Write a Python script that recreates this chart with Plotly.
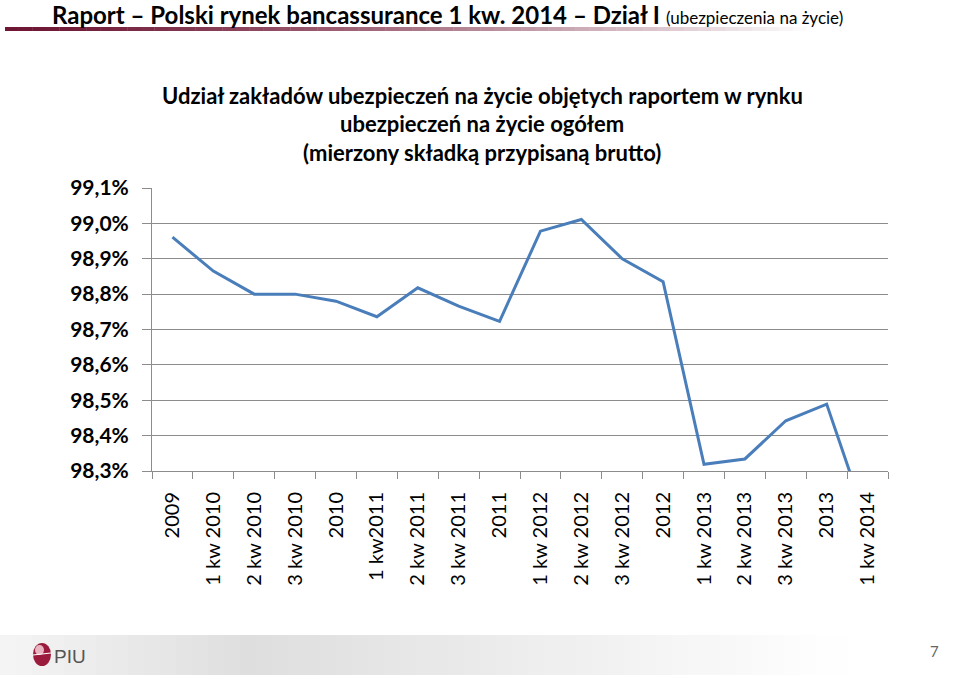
import plotly.graph_objects as go

categories = ["2009", "1 kw 2010", "2 kw 2010", "3 kw 2010", "2010",
              "1 kw2011", "2 kw 2011", "3 kw 2011", "2011",
              "1 kw 2012", "2 kw 2012", "3 kw 2012", "2012",
              "1 kw 2013", "2 kw 2013", "3 kw 2013", "2013", "1 kw 2014"]
share = [98.961, 98.865, 98.800, 98.800, 98.780,
         98.736, 98.818, 98.766, 98.723,
         98.978, 99.011, 98.900, 98.835,
         98.319, 98.334, 98.442, 98.489, 98.15]
y_ticks = [98.3, 98.4, 98.5, 98.6, 98.7, 98.8, 98.9, 99.0, 99.1]
y_labels = ["<b>" + f"{v:.1f}%".replace(".", ",") + "</b>" for v in y_ticks]

title_lines = ["Udział zakładów ubezpieczeń na życie objętych raportem w rynku",
               "ubezpieczeń na życie ogółem",
               "(mierzony składką przypisaną brutto)"]
header_main = "Raport – Polski rynek bancassurance 1 kw. 2014 – Dział I"
header_sub = "(ubezpieczenia na życie)"

W, H = 960, 675
L, R, T, B = 152, 72, 188, 204
pw = W - L - R
ph = H - T - B


def fx(px):
    return (px - L) / pw


def fy(py):
    return (H - B - py) / ph


def mix(c1, c2, t):
    return "rgb(%d,%d,%d)" % tuple(round(a + (b - a) * t) for a, b in zip(c1, c2))


fig = go.Figure()
fig.add_trace(go.Scatter(
    x=categories, y=share, mode="lines",
    line=dict(color="#4A7EBB", width=3),
    hoverinfo="x+y", showlegend=False,
))

shapes = []
# header gradient bar
n = 60
x0, x1 = 5, 820
dark = (110, 22, 52)
white = (255, 255, 255)
for i in range(n):
    a = x0 + (x1 - x0) * i / n
    b = x0 + (x1 - x0) * (i + 1) / n
    t = (i / (n - 1)) ** 1.3
    shapes.append(dict(type="rect", xref="paper", yref="paper",
                       x0=fx(a), x1=fx(b) + 0.0005, y0=fy(31), y1=fy(27),
                       fillcolor=mix(dark, white, t), line=dict(width=0), layer="above"))
# footer gradient band
n2 = 60
gray = (222, 222, 222)
light = (245, 245, 245)
for i in range(n2):
    a = W * i / n2
    b = W * (i + 1) / n2
    c = (a + b) / 2
    if c < 250:
        col = mix(light, gray, c / 250)
    else:
        col = mix(gray, white, min(1, (c - 250) / 600))
    shapes.append(dict(type="rect", xref="paper", yref="paper",
                       x0=fx(a), x1=fx(b) + 0.0005, y0=fy(H), y1=fy(635),
                       fillcolor=col, line=dict(width=0), layer="below"))
# logo egg
shapes.append(dict(type="circle", xref="paper", yref="paper",
                   x0=fx(33), x1=fx(51), y0=fy(666), y1=fy(643),
                   fillcolor="#9B1B3C", line=dict(width=0), layer="above"))
shapes.append(dict(type="circle", xref="paper", yref="paper",
                   x0=fx(35), x1=fx(44), y0=fy(655), y1=fy(645),
                   fillcolor="#E7B4C0", line=dict(width=0), layer="above"))
shapes.append(dict(type="line", xref="paper", yref="paper",
                   x0=fx(33), x1=fx(51), y0=fy(655), y1=fy(653),
                   line=dict(color="white", width=1.2), layer="above"))

annotations = []
annotations.append(dict(
    x=fx(50), y=fy(14), xref="paper", yref="paper", xanchor="left", yanchor="middle",
    text=f"<b>{header_main}</b> <span style='font-size:17px'>{header_sub}</span>",
    showarrow=False, font=dict(family="Lato", size=24, color="black")))
for i, line in enumerate(title_lines):
    annotations.append(dict(
        x=fx(482), y=fy(95 + i * 28.5), xref="paper", yref="paper",
        xanchor="center", yanchor="middle", text=f"<b>{line}</b>",
        showarrow=False, font=dict(family="Lato", size=22, color="black")))
annotations.append(dict(
    x=fx(52), y=fy(656), xref="paper", yref="paper", xanchor="left", yanchor="middle",
    text="PIU", showarrow=False,
    font=dict(family="Liberation Sans Narrow, Liberation Sans", size=19, color="#555555")))
annotations.append(dict(
    x=fx(934), y=fy(651), xref="paper", yref="paper", xanchor="center", yanchor="middle",
    text="7", showarrow=False, font=dict(family="Lato", size=15, color="#666666")))

fig.update_layout(
    width=W, height=H,
    margin=dict(l=L, r=R, t=T, b=B, autoexpand=False),
    paper_bgcolor="white", plot_bgcolor="white",
    shapes=shapes, annotations=annotations,
    xaxis=dict(type="category", tickson="boundaries", ticks="outside", ticklen=7,
               tickcolor="#8C8C8C", showline=True, linecolor="#8C8C8C", linewidth=1,
               showgrid=False, tickangle=-90, ticklabelstandoff=12,
               tickfont=dict(family="Lato", size=20, color="black"),
               range=[-0.5, len(categories) - 0.5]),
    yaxis=dict(range=[98.3, 99.1], tickvals=y_ticks, ticktext=y_labels,
               showgrid=True, gridcolor="#8C8C8C", gridwidth=1,
               ticks="outside", ticklen=9, tickcolor="#8C8C8C",
               showline=True, linecolor="#8C8C8C", linewidth=1, zeroline=False,
               ticklabelstandoff=9,
               tickfont=dict(family="Lato", size=21, color="black"), fixedrange=True),
    showlegend=False,
)

fig.write_html("out.html")
